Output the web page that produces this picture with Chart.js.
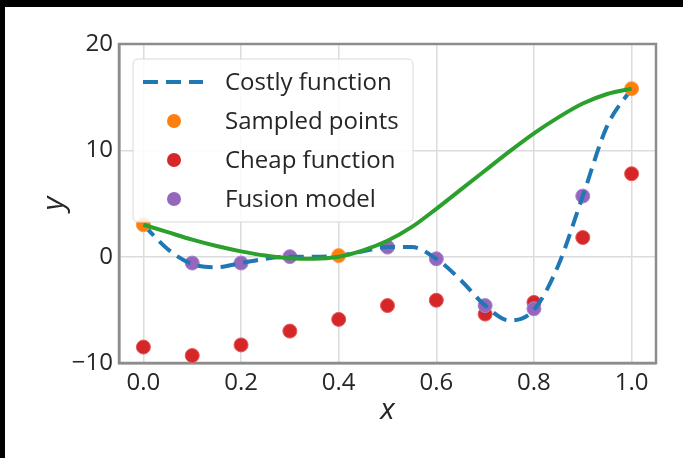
<!DOCTYPE html>
<html>
<head>
<meta charset="utf-8">
<script src="https://cdn.jsdelivr.net/npm/chart.js@4.4.1/dist/chart.umd.min.js"></script>
<style>
  html, body { margin: 0; padding: 0; background: #fff; }
  #wrap { position: relative; width: 683px; height: 458px; }
</style>
</head>
<body>
<div id="wrap"><canvas id="chart" width="683" height="458"></canvas></div>
<script>
// sample positions
const xSamples = [0, 0.1, 0.2, 0.3, 0.4, 0.5, 0.6, 0.7, 0.8, 0.9, 1.0];
const xCurve = [0, 0.05, 0.1, 0.15, 0.2, 0.25, 0.3, 0.35, 0.4, 0.45, 0.5,
                0.55, 0.6, 0.65, 0.7, 0.75, 0.8, 0.85, 0.9, 0.95, 1.0];

// costly function (dashed)
const costlyCurve = [3.0, 0.7, -0.7, -1.0, -0.6, -0.2, 0.0, 0.0, 0.1, 0.5, 0.9,
                     0.9, -0.2, -2.2, -4.6, -6.0, -5.0, -0.8, 5.7, 12.3, 15.8];
// green fit through the sampled points
const fitCurve = [3.0, 2.3, 1.6, 1.0, 0.5, 0.1, -0.15, -0.2, 0.0, 0.6, 1.5,
                  2.8, 4.5, 6.3, 8.1, 9.9, 11.6, 13.1, 14.4, 15.3, 15.8];

const sampledX = [0, 0.4, 1.0];
const sampledY = [3.0, 0.1, 15.8];
const cheapY = [-8.5, -9.3, -8.3, -7.0, -5.9, -4.6, -4.1, -5.4, -4.3, 1.8, 7.8];
const fusionX = [0.1, 0.2, 0.3, 0.5, 0.6, 0.7, 0.8, 0.9];
const fusionY = [-0.6, -0.6, 0.0, 0.9, -0.2, -4.6, -4.9, 5.7];

const xTicks = [0, 0.2, 0.4, 0.6, 0.8, 1.0];
const yTicks = [-10, 0, 10, 20];

const FONT = "'Open Sans', 'Noto Sans', sans-serif";
const TEXT = '#262626';
const SPINE = '#8c8c8c';
const zip = (xs, ys) => xs.map((x, i) => ({ x, y: ys[i] }));

// full box round the plot (top and right spines too)
const spines = {
    id: 'spines',
    beforeDatasetsDraw(chart) {
        const ctx = chart.ctx;
        const a = chart.chartArea;
        ctx.save();
        ctx.strokeStyle = SPINE;
        ctx.lineWidth = 2.5;
        ctx.strokeRect(a.left, a.top, a.right - a.left, a.bottom - a.top);
        ctx.restore();
    }
};

// legend drawn inside the plot area, upper left
const insideLegend = {
    id: 'insideLegend',
    afterDatasetsDraw(chart) {
        const ctx = chart.ctx;
        const a = chart.chartArea;
        const bx = a.left + 14, by = a.top + 15, bw = 280, bh = 163;
        ctx.save();
        ctx.beginPath();
        ctx.roundRect(bx, by, bw, bh, 5);
        ctx.fillStyle = 'rgba(255,255,255,0.85)';
        ctx.fill();
        ctx.strokeStyle = '#d9d9d9';
        ctx.lineWidth = 1;
        ctx.stroke();

        const items = chart.data.datasets.filter(d => d.label);
        items.sort((p, q) => p.legendRank - q.legendRank);
        items.forEach((d, i) => {
            const cy = by + 23 + i * 39;
            if (d.showLine) {
                ctx.beginPath();
                ctx.setLineDash(d.borderDash || []);
                ctx.strokeStyle = d.borderColor;
                ctx.lineWidth = d.borderWidth;
                ctx.moveTo(bx + 10, cy);
                ctx.lineTo(bx + 70, cy);
                ctx.stroke();
                ctx.setLineDash([]);
            } else {
                ctx.beginPath();
                ctx.arc(bx + 41, cy, 7, 0, Math.PI * 2);
                ctx.fillStyle = d.backgroundColor;
                ctx.fill();
            }
            ctx.fillStyle = TEXT;
            ctx.font = '24px ' + FONT;
            ctx.textBaseline = 'middle';
            ctx.textAlign = 'left';
            ctx.fillText(d.label, bx + 92, cy + 1);
        });
        ctx.restore();
    }
};

// white page with the dark strip at top and left
const frame = {
    id: 'frame',
    beforeDraw(chart) {
        const ctx = chart.ctx;
        ctx.save();
        ctx.fillStyle = '#fff';
        ctx.fillRect(0, 0, chart.width, chart.height);
        ctx.fillStyle = '#000';
        ctx.fillRect(0, 0, chart.width, 7);
        ctx.fillRect(0, 0, 5, chart.height);
        ctx.restore();
    }
};

new Chart(document.getElementById('chart'), {
    type: 'scatter',
    data: {
        datasets: [
            {
                label: '', data: zip(xCurve, fitCurve), showLine: true,
                borderColor: '#2ca02c', borderWidth: 4, pointRadius: 0,
                cubicInterpolationMode: 'monotone', order: 0
            },
            {
                label: 'Sampled points', legendRank: 1, data: zip(sampledX, sampledY),
                backgroundColor: '#ff7f0e', borderColor: '#ff9a40', borderWidth: 1,
                pointRadius: 7, order: 1
            },
            {
                label: 'Costly function', legendRank: 0, data: zip(xCurve, costlyCurve), showLine: true,
                borderColor: '#1f77b4', borderWidth: 4, borderDash: [15, 8], pointRadius: 0,
                cubicInterpolationMode: 'monotone', order: 2
            },
            {
                label: 'Fusion model', legendRank: 3, data: zip(fusionX, fusionY),
                backgroundColor: '#9467bd', borderColor: '#a784cc', borderWidth: 1,
                pointRadius: 7, order: 3
            },
            {
                label: 'Cheap function', legendRank: 2, data: zip(xSamples, cheapY),
                backgroundColor: '#d62728', borderColor: '#e5585a', borderWidth: 1,
                pointRadius: 7, order: 4
            }
        ]
    },
    options: {
        responsive: false,
        devicePixelRatio: 1,
        animation: false,
        layout: { padding: { left: 0, top: 44, right: 27, bottom: 0 } },
        plugins: { legend: { display: false }, tooltip: { enabled: false } },
        scales: {
            x: {
                type: 'linear', min: -0.05, max: 1.05,
                afterBuildTicks: s => { s.ticks = xTicks.map(v => ({ value: v })); },
                afterFit: s => { s.height = 95; },
                ticks: {
                    callback: v => v.toFixed(1),
                    color: TEXT, padding: 6,
                    font: { family: FONT, size: 24 }
                },
                grid: { color: '#dcdcdc', lineWidth: 1.5, drawTicks: false },
                border: { color: SPINE, width: 2.5 },
                title: {
                    display: true, text: 'x', color: TEXT,
                    font: { family: FONT, size: 30, style: 'italic' },
                    padding: { top: 0, bottom: 30 }
                }
            },
            y: {
                type: 'linear', min: -10, max: 20,
                afterBuildTicks: s => { s.ticks = yTicks.map(v => ({ value: v })); },
                afterFit: s => { s.width = 119; },
                ticks: {
                    callback: v => String(v).replace('-', '\u2212'),
                    color: TEXT, padding: 6,
                    font: { family: FONT, size: 24 }
                },
                grid: { color: '#dcdcdc', lineWidth: 1.5, drawTicks: false },
                border: { color: SPINE, width: 2.5 },
                title: {
                    display: true, text: 'y', color: TEXT,
                    font: { family: FONT, size: 30, style: 'italic' },
                    padding: { top: 36, bottom: 0 }
                }
            }
        }
    },
    plugins: [frame, spines, insideLegend]
});
</script>
</body>
</html>
